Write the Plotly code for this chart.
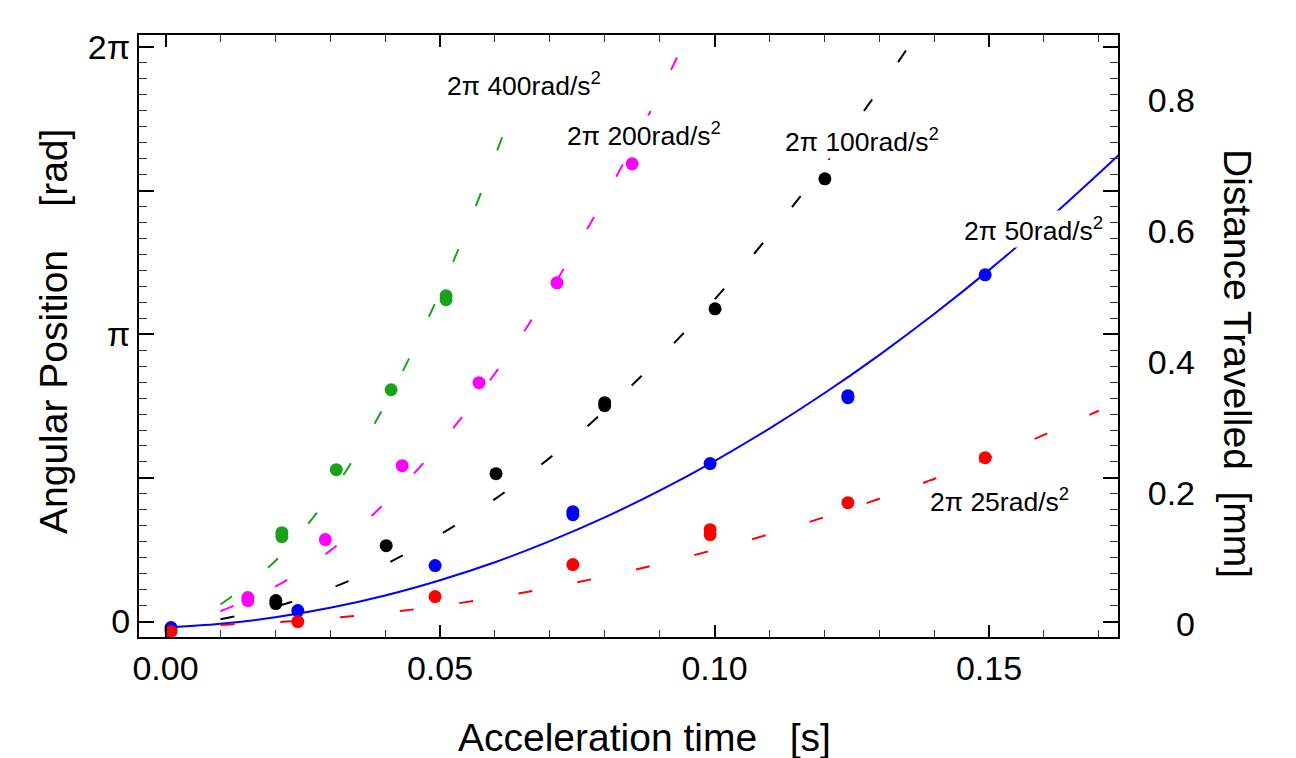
import math
import plotly.graph_objects as go

PI = math.pi

# ---------------- data ----------------
# model curves (angular position in rad vs acceleration time in s)
t_400 = [0.01, 0.02, 0.03, 0.04, 0.05, 0.06, 0.067]
th_400 = [0.186, 0.663, 1.391, 2.371, 3.602, 5.084, 6.271]

t_200 = [0.01, 0.02, 0.03, 0.04, 0.05, 0.06, 0.07, 0.08, 0.09, 0.095]
th_200 = [0.113, 0.381, 0.775, 1.295, 1.941, 2.712, 3.609, 4.631, 5.779, 6.40]

t_100 = [0.01, 0.02, 0.03, 0.04, 0.05, 0.06, 0.07, 0.08, 0.09, 0.10, 0.11, 0.12, 0.13, 0.136]
th_100 = [0.024, 0.162, 0.362, 0.625, 0.950, 1.339, 1.790, 2.305, 2.882, 3.522, 4.224, 4.990, 5.818, 6.346]

t_50 = [0.0, 0.01, 0.02, 0.03, 0.04, 0.05, 0.06, 0.07, 0.08, 0.09, 0.10, 0.11, 0.12,
        0.13, 0.14, 0.15, 0.16, 0.17, 0.175]
th_50 = [-0.066, -0.025, 0.047, 0.150, 0.285, 0.452, 0.649, 0.879, 1.139, 1.431, 1.755,
         2.110, 2.496, 2.914, 3.363, 3.843, 4.355, 4.899, 5.18]

t_25 = [0.01, 0.02, 0.03, 0.04, 0.05, 0.06, 0.07, 0.08, 0.09, 0.10, 0.11, 0.12, 0.13,
        0.14, 0.15, 0.16, 0.17]
th_25 = [-0.037, -0.009, 0.036, 0.096, 0.171, 0.263, 0.370, 0.493, 0.631, 0.785, 0.955,
         1.141, 1.342, 1.559, 1.792, 2.041, 2.305]

# measured points
px_400 = [0.0212, 0.0212, 0.0311, 0.0411, 0.0511, 0.0511]
py_400 = [0.929, 0.972, 1.661, 2.535, 3.519, 3.562]

px_200 = [0.001, 0.015, 0.015, 0.0291, 0.0431, 0.0571, 0.0713, 0.085]
py_200 = [-0.087, 0.262, 0.229, 0.896, 1.705, 2.612, 3.704, 5.005]

px_100 = [0.0201, 0.0201, 0.0402, 0.0602, 0.0800, 0.0800, 0.1001, 0.1201]
py_100 = [0.197, 0.230, 0.830, 1.617, 2.393, 2.360, 3.420, 4.841]

px_50 = [0.001, 0.0241, 0.0491, 0.0742, 0.0742, 0.0992, 0.1243, 0.1243, 0.1493]
py_50 = [-0.066, 0.120, 0.612, 1.202, 1.169, 1.727, 2.470, 2.448, 3.792]

px_25 = [0.001, 0.0241, 0.0491, 0.0742, 0.0992, 0.0992, 0.1243, 0.1493]
py_25 = [-0.109, 0.0, 0.273, 0.623, 0.951, 1.005, 1.300, 1.792]

labels = ["2π 400rad/s<sup>2</sup>", "2π 200rad/s<sup>2</sup>", "2π 100rad/s<sup>2</sup>",
          "2π 50rad/s<sup>2</sup>", "2π 25rad/s<sup>2</sup>"]
label_x = [0.0509, 0.0728, 0.1125, 0.1451, 0.1389]
label_y = [5.879, 5.333, 5.267, 4.295, 1.333]

y_tickvals = [0, PI / 2, PI, 3 * PI / 2, 2 * PI]
y_ticktext = ["0", "", "π", "", "2π"]
x_tickvals = [0.0, 0.05, 0.10, 0.15]
x_ticktext = ["0.00", "0.05", "0.10", "0.15"]
y2_tickvals = [0, 0.2, 0.4, 0.6, 0.8]
y2_ticktext = ["0", "0.2", "0.4", "0.6", "0.8"]

x_title = "Acceleration time\u00a0\u00a0\u00a0[s]"
y_title = "Angular Position\u00a0\u00a0\u00a0\u00a0[rad]"
y2_title = "Distance Travelled\u00a0\u00a0[mm]"

# ---------------- styles ----------------
GREEN = "#1aa31a"
MAGENTA = "#ff00ff"
BLACK = "#000000"
BLUE = "#0000ff"
RED = "#ff0000"
DASH = "14px,46px"
FONT = "Liberation Sans, Arial, Helvetica, sans-serif"
TICK_SIZE = 34
TITLE_SIZE = 39
LABEL_SIZE = 26.5

fig = go.Figure()

curves = [
    (t_400, th_400, GREEN, DASH),
    (t_200, th_200, MAGENTA, DASH),
    (t_100, th_100, BLACK, DASH),
    (t_50, th_50, BLUE, "solid"),
    (t_25, th_25, RED, DASH),
]
for tx, ty, c, d in curves:
    fig.add_trace(go.Scatter(x=tx, y=ty, mode="lines",
                             line=dict(color=c, width=2, dash=d, shape="spline"),
                             showlegend=False, hoverinfo="skip"))

points = [
    (px_400, py_400, GREEN),
    (px_200, py_200, MAGENTA),
    (px_100, py_100, BLACK),
    (px_50, py_50, BLUE),
    (px_25, py_25, RED),
]
for xx, yy, c in points:
    fig.add_trace(go.Scatter(x=xx, y=yy, mode="markers",
                             marker=dict(color=c, size=13, line=dict(width=0)),
                             showlegend=False))

# invisible trace to activate the secondary axis
fig.add_trace(go.Scatter(x=[None], y=[None], yaxis="y2", showlegend=False))

W, H = 1296, 758
ML, MR, MT, MB = 139, 60, 35, 121
PW = W - ML - MR
PH = H - MT - MB
x_end = (1118 - ML) / PW


def px_x(p):
    return (p - ML) / PW


def px_y(p):
    return (H - MB - p) / PH


annotations = []
for txt, ax, ay in zip(labels, label_x, label_y):
    annotations.append(dict(x=ax, y=ay, xref="x", yref="y", text=txt, showarrow=False,
                            xanchor="left", yanchor="middle", bgcolor="white",
                            font=dict(family=FONT, size=LABEL_SIZE, color="black")))

annotations += [
    dict(x=px_x(644), y=px_y(737), xref="paper", yref="paper",
         text=x_title, showarrow=False,
         xanchor="center", yanchor="middle", font=dict(family=FONT, size=TITLE_SIZE, color="black")),
    dict(x=px_x(53), y=px_y(332), xref="paper", yref="paper",
         text=y_title, showarrow=False, textangle=-90,
         xanchor="center", yanchor="middle", font=dict(family=FONT, size=TITLE_SIZE, color="black")),
    dict(x=px_x(1238), y=px_y(363), xref="paper", yref="paper",
         text=y2_title, showarrow=False, textangle=90,
         xanchor="center", yanchor="middle", font=dict(family=FONT, size=TITLE_SIZE, color="black")),
]

fig.update_layout(
    width=W, height=H,
    margin=dict(l=ML, r=MR, t=MT, b=MB),
    paper_bgcolor="white", plot_bgcolor="white",
    font=dict(family=FONT, color="black"),
    showlegend=False,
    xaxis=dict(domain=[0, x_end], range=[-0.00483, 0.1735],
               tickvals=x_tickvals, ticktext=x_ticktext,
               ticks="inside", ticklen=12, tickwidth=1.5, tickcolor="black",
               minor=dict(dtick=0.01, ticks="inside", ticklen=7, tickcolor="#333", tickwidth=1),
               showline=True, linewidth=2, linecolor="black", mirror="ticks",
               showgrid=False, zeroline=False,
               tickfont=dict(size=TICK_SIZE, family=FONT, color="black")),
    yaxis=dict(range=[-0.169, 6.414],
               tickvals=y_tickvals, ticktext=y_ticktext,
               ticks="inside", ticklen=15, tickwidth=1.5, tickcolor="black",
               minor=dict(dtick=PI / 18, tick0=0, ticks="inside", ticklen=8, tickcolor="#333", tickwidth=1),
               showline=True, linewidth=2, linecolor="black", mirror="ticks",
               showgrid=False, zeroline=False,
               tickfont=dict(size=TICK_SIZE, family=FONT, color="black")),
    yaxis2=dict(overlaying="y", anchor="free", side="left",
                position=px_x(1195), range=[-0.019, 0.899],
                tickvals=y2_tickvals, ticktext=y2_ticktext,
                ticks="", showline=False, showgrid=False, zeroline=False,
                tickfont=dict(size=TICK_SIZE, family=FONT, color="black")),
    annotations=annotations,
)

fig.write_html("out.html")
